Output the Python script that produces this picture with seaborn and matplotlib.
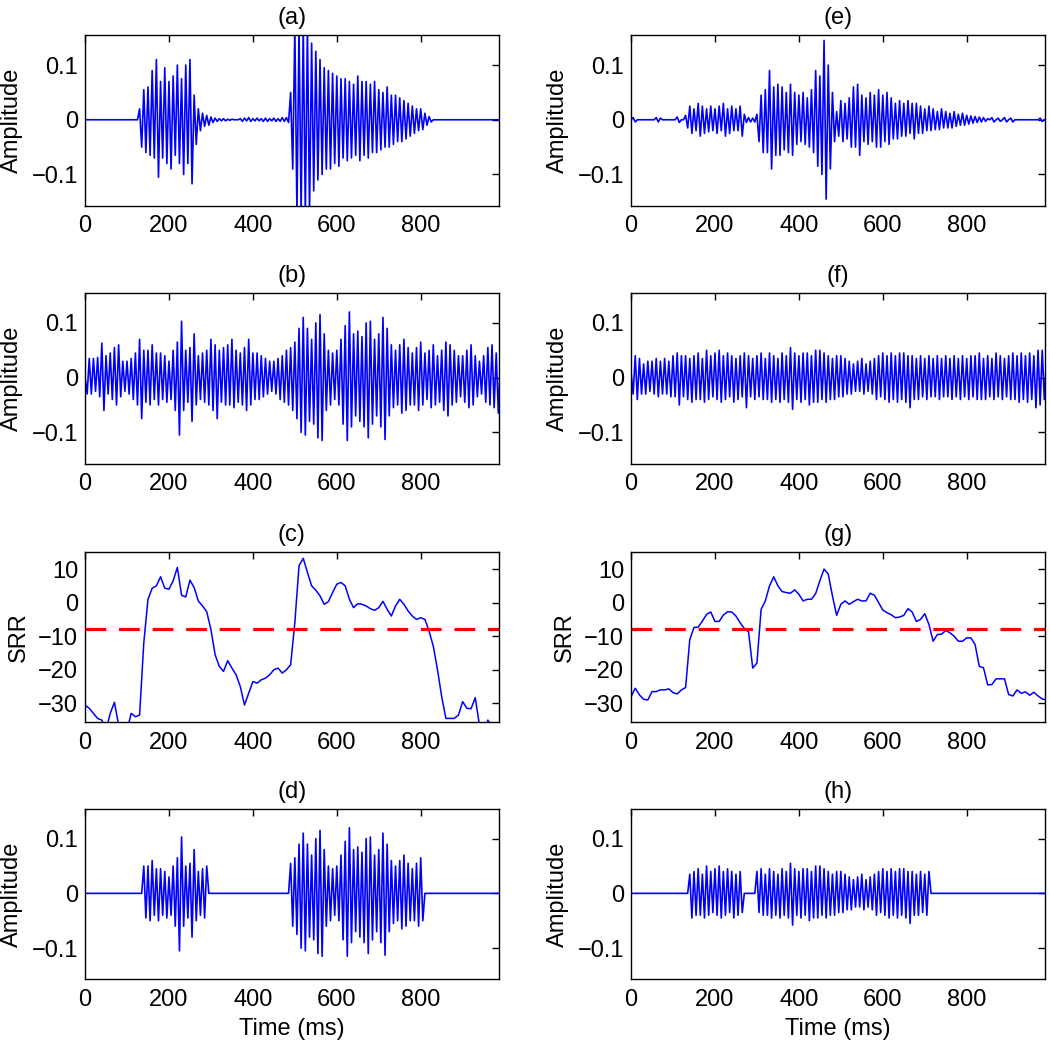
import numpy as np
import matplotlib
matplotlib.use("Agg")
import matplotlib.pyplot as plt
import seaborn as sns

# sample grid of the waveforms (ms) and of the SRR track (ms)
time_ms = np.arange(0, 1000, 5)
srr_time = np.arange(0, 1000, 10)

# (a) clean utterance 1
clean_a = [
    0, 0, 0, 0, 0, 0, 0, 0, 0, 0,
    0, 0, 0, 0, 0, 0, 0, 0, 0, 0,
    0, 0, 0, 0, 0, 0, 0.02, -0.05, 0.055, -0.06,
    0.06, -0.065, 0.09, -0.07, 0.11, -0.105, 0.07, -0.07, 0.095, -0.08,
    0.07, -0.09, 0.08, -0.065, 0.1, -0.08, 0.075, -0.1, 0.1, -0.08,
    0.11, -0.117, 0.045, -0.045, 0.02, -0.02, 0.012, -0.012, 0.008, -0.01,
    0.005, -0.005, 0.003, -0.003, 0.002, -0.002, 0.002, -0.002, 0.001, -0.001,
    0.001, 0, 0, 0, 0.002, -0.003, 0.003, -0.002, 0.004, -0.003,
    0.002, -0.002, 0.003, -0.002, 0.002, -0.003, 0.003, -0.003, 0.002, -0.002,
    0.003, -0.003, 0.002, -0.003, 0.004, -0.003, 0.004, -0.005, 0.05, -0.09,
    0.17, -0.17, 0.17, -0.17, 0.17, -0.17, 0.17, -0.17, 0.14, -0.13,
    0.125, -0.11, 0.11, -0.1, 0.095, -0.09, 0.09, -0.09, 0.085, -0.08,
    0.08, -0.085, 0.075, -0.07, 0.075, -0.075, 0.07, -0.07, 0.065, -0.065,
    0.08, -0.075, 0.07, -0.065, 0.07, -0.07, 0.065, -0.06, 0.07, -0.06,
    0.055, -0.055, 0.05, -0.05, 0.06, -0.05, 0.045, -0.045, 0.045, -0.04,
    0.04, -0.04, 0.035, -0.035, 0.03, -0.03, 0.025, -0.025, 0.02, -0.02,
    0.02, -0.018, 0.012, -0.01, 0.006, -0.004, 0, 0, 0, 0,
    0, 0, 0, 0, 0, 0, 0, 0, 0, 0,
    0, 0, 0, 0, 0, 0, 0, 0, 0, 0,
    0, 0, 0, 0, 0, 0, 0, 0, 0, 0,
]

# (b) noisy utterance 1
noisy_b = [
    0.0, -0.03, 0.035, -0.03, 0.035, -0.025, 0.037, -0.035, 0.063, -0.06,
    0.04, -0.03, 0.045, -0.04, 0.055, -0.05, 0.06, -0.035, 0.03, -0.025,
    0.03, -0.03, 0.035, -0.04, 0.045, -0.05, 0.07, -0.075, 0.05, -0.045,
    0.05, -0.05, 0.06, -0.04, 0.045, -0.05, 0.045, -0.04, 0.04, -0.045,
    0.03, -0.04, 0.05, -0.06, 0.065, -0.105, 0.103, -0.06, 0.05, -0.045,
    0.055, -0.08, 0.08, -0.05, 0.04, -0.04, 0.045, -0.045, 0.05, -0.05,
    0.07, -0.06, 0.06, -0.075, 0.05, -0.045, 0.055, -0.05, 0.06, -0.05,
    0.07, -0.055, 0.05, -0.045, 0.045, -0.05, 0.055, -0.06, 0.07, -0.05,
    0.045, -0.04, 0.045, -0.04, 0.04, -0.035, 0.035, -0.03, 0.03, -0.025,
    0.03, -0.03, 0.035, -0.04, 0.04, -0.045, 0.05, -0.05, 0.055, -0.06,
    0.065, -0.075, 0.09, -0.1, 0.11, -0.105, 0.09, -0.08, 0.07, -0.085,
    0.1, -0.11, 0.115, -0.115, 0.08, -0.06, 0.05, -0.05, 0.045, -0.04,
    0.05, -0.05, 0.07, -0.085, 0.095, -0.115, 0.12, -0.09, 0.08, -0.07,
    0.085, -0.08, 0.075, -0.09, 0.1, -0.11, 0.103, -0.085, 0.07, -0.07,
    0.08, -0.09, 0.11, -0.113, 0.09, -0.07, 0.06, -0.055, 0.05, -0.05,
    0.06, -0.065, 0.07, -0.06, 0.055, -0.05, 0.045, -0.05, 0.055, -0.06,
    0.065, -0.05, 0.045, -0.04, 0.05, -0.055, 0.06, -0.05, 0.04, -0.045,
    0.05, -0.06, 0.065, -0.07, 0.06, -0.05, 0.05, -0.045, 0.04, -0.035,
    0.04, -0.045, 0.05, -0.055, 0.06, -0.05, 0.04, -0.035, 0.03, -0.03,
    0.04, -0.045, 0.055, -0.05, 0.06, -0.055, 0.045, -0.065, 0.035, -0.03,
]

# (e) clean utterance 2
clean_e = [
    0, 0.004, -0.004, 0, 0, 0, 0, 0, 0, 0,
    0, 0, 0.004, -0.004, 0.003, 0, 0, 0, 0, 0,
    0, 0, 0.005, -0.005, 0, 0, 0.008, -0.015, 0.025, -0.025,
    0.02, -0.02, 0.03, -0.03, 0.025, -0.025, 0.02, -0.022, 0.025, -0.02,
    0.02, -0.025, 0.025, -0.02, 0.03, -0.03, 0.02, -0.025, 0.025, -0.02,
    0.02, -0.02, 0.025, -0.03, 0.01, -0.005, 0.004, -0.004, 0.003, -0.004,
    0.01, -0.04, 0.045, -0.06, 0.055, -0.06, 0.09, -0.09, 0.06, -0.065,
    0.065, -0.065, 0.06, -0.055, 0.05, -0.06, 0.065, -0.065, 0.05, -0.045,
    0.045, -0.04, 0.05, -0.045, 0.04, -0.05, 0.055, -0.06, 0.09, -0.085,
    0.08, -0.1, 0.145, -0.145, 0.1, -0.09, 0.05, -0.04, 0.015, -0.03,
    0.035, -0.04, 0.03, -0.035, 0.04, -0.05, 0.06, -0.05, 0.065, -0.065,
    0.045, -0.04, 0.04, -0.045, 0.05, -0.04, 0.045, -0.05, 0.055, -0.05,
    0.045, -0.04, 0.05, -0.045, 0.04, -0.035, 0.03, -0.035, 0.035, -0.03,
    0.03, -0.03, 0.035, -0.025, 0.03, -0.035, 0.03, -0.025, 0.025, -0.025,
    0.02, -0.02, 0.025, -0.02, 0.02, -0.018, 0.015, -0.018, 0.02, -0.015,
    0.015, -0.015, 0.012, -0.015, 0.015, -0.012, 0.01, -0.01, 0.012, -0.01,
    0.008, -0.008, 0.007, -0.006, 0.006, -0.005, 0.005, -0.004, 0.004, -0.003,
    0.002, 0, 0.004, -0.004, 0, 0.003, -0.003, 0, 0.004, -0.004,
    0, 0.003, -0.004, 0, 0, 0, 0, 0, 0, 0,
    0, 0, 0, 0, 0, 0.003, -0.003, 0, 0, 0,
]

# (f) noisy utterance 2
noisy_f = [
    0.01, -0.03, 0.04, -0.04, 0.035, -0.03, 0.025, -0.03, 0.03, -0.025,
    0.03, -0.03, 0.035, -0.035, 0.03, -0.03, 0.035, -0.03, 0.03, -0.035,
    0.04, -0.035, 0.045, -0.05, 0.04, -0.035, 0.04, -0.04, 0.035, -0.045,
    0.04, -0.04, 0.045, -0.04, 0.035, -0.045, 0.05, -0.04, 0.04, -0.035,
    0.045, -0.04, 0.05, -0.045, 0.04, -0.04, 0.045, -0.035, 0.04, -0.045,
    0.035, -0.04, 0.04, -0.035, 0.045, -0.055, 0.04, -0.035, 0.035, -0.04,
    0.04, -0.035, 0.045, -0.04, 0.035, -0.04, 0.045, -0.045, 0.04, -0.04,
    0.035, -0.045, 0.045, -0.04, 0.04, -0.045, 0.055, -0.058, 0.045, -0.04,
    0.04, -0.045, 0.045, -0.04, 0.045, -0.05, 0.04, -0.045, 0.05, -0.045,
    0.05, -0.04, 0.045, -0.045, 0.04, -0.04, 0.035, -0.04, 0.04, -0.035,
    0.04, -0.035, 0.035, -0.03, 0.03, -0.03, 0.025, -0.025, 0.03, -0.025,
    0.035, -0.03, 0.025, -0.025, 0.03, -0.03, 0.035, -0.04, 0.04, -0.035,
    0.045, -0.04, 0.04, -0.045, 0.045, -0.04, 0.04, -0.045, 0.045, -0.04,
    0.045, -0.045, 0.04, -0.055, 0.04, -0.04, 0.035, -0.04, 0.04, -0.035,
    0.035, -0.04, 0.04, -0.035, 0.035, -0.035, 0.04, -0.04, 0.035, -0.035,
    0.04, -0.035, 0.035, -0.04, 0.04, -0.035, 0.035, -0.04, 0.04, -0.035,
    0.035, -0.04, 0.04, -0.035, 0.04, -0.04, 0.045, -0.04, 0.035, -0.04,
    0.04, -0.035, 0.035, -0.04, 0.045, -0.035, 0.04, -0.04, 0.035, -0.035,
    0.04, -0.04, 0.045, -0.04, 0.04, -0.045, 0.045, -0.04, 0.04, -0.045,
    0.045, -0.04, 0.04, -0.055, 0.05, -0.05, 0.05, -0.04, 0.03, -0.02,
]

# (c), (g) segmental SRR tracks (dB), one value every 10 ms
srr_c = [
    -30.5, -31.5, -33, -34.5, -35, -38, -33, -29.7, -36.5, -40,
    -38, -33, -34, -33.5, -12, 1, 4.3, 5, 7.7, 4.3,
    4, 6.5, 10.5, 2.2, 1.7, 6.7, 4.5, 0.5, -1, -2.7,
    -8, -15.5, -19, -20.5, -17.3, -19.5, -21.5, -25, -30.5, -27,
    -23.5, -24, -23, -22.5, -21.5, -20, -19.5, -21, -20, -18.5,
    -6, 11, 13.2, 9, 5, 3.7, 2, -0.5, 0.3, 3,
    5.5, 6, 5, 1, -1.5, -0.3, -0.5, -1, -1.8, -2.3,
    -1.5, 0.4, -2, -4, -1, 1, -0.5, -2.5, -4, -5,
    -4.5, -5, -8.5, -13, -20, -28, -34.5, -34.5, -34.5, -33.5,
    -29.5, -31.5, -31.6, -28.3, -36.5, -40, -35, -37, -38, -35.5,
]
srr_g = [
    -28, -25.5, -27.5, -28.8, -29, -26.5, -26.5, -26, -26, -25.7,
    -26.8, -27.2, -26, -25.3, -11, -7.4, -7.3, -5.5, -3.5, -2.8,
    -5.6, -5.6, -3.7, -2.7, -2.8, -4, -6, -7.7, -8.7, -19.5,
    -18, -2, 0.5, 5, 7.7, 5, 3.3, 3, 2.8, 3.8,
    2.5, 0.5, 1, 1, 2.7, 6.5, 10, 8.5, 2, -3.8,
    -0.5, 0.5, -0.5, 0.3, 1, 0.5, 0.5, 2.8, 2.2, 0,
    -2.2, -3, -3.6, -4.5, -4.3, -3.8, -1.8, -2.8, -5.6, -5,
    -3.3, -6.5, -11.5, -9.5, -9.4, -8.3, -9, -10, -11.5, -11.5,
    -10.5, -10.5, -12.5, -19, -19.4, -24.5, -24.4, -22.7, -22.7, -22.7,
    -27.4, -27.8, -26, -27, -26.6, -27.6, -26.7, -27.8, -28.7, -29,
]
srr_threshold = -8

# speech segments kept after thresholding (ms)
kept_d = [(140, 290), (490, 805)]
kept_h = [(140, 267), (298, 714)]


def keep(values, segments):
    values = np.asarray(values, dtype=float)
    mask = np.zeros(len(time_ms), dtype=bool)
    for start, end in segments:
        mask |= (time_ms >= start) & (time_ms <= end)
    return np.where(mask, values, 0.0)


enhanced_d = keep(noisy_b, kept_d)
enhanced_h = keep(noisy_f, kept_h)

x_ticks = [0, 200, 400, 600, 800]
amp_ticks = [-0.1, 0, 0.1]
amp_labels = ["\u22120.1", "0", "0.1"]
srr_ticks = [-30, -20, -10, 0, 10]
srr_labels = ["\u221230", "\u221220", "\u221210", "0", "10"]

sns.set_style("white")
plt.rcParams["font.family"] = ["Liberation Sans", "DejaVu Sans"]
plt.rcParams["text.color"] = "black"
plt.rcParams["axes.labelcolor"] = "black"
FS = 17

fig = plt.figure(figsize=(10.5, 10.44), dpi=100)
col_left = [0.081, 0.601]
row_bottom = [0.803, 0.556, 0.308, 0.062]
w, h = 0.394, 0.163

panels = [
    ("(a)", "wave", clean_a), ("(b)", "wave", noisy_b),
    ("(c)", "srr", srr_c), ("(d)", "wave", enhanced_d),
    ("(e)", "wave", clean_e), ("(f)", "wave", noisy_f),
    ("(g)", "srr", srr_g), ("(h)", "wave", enhanced_h),
]

for k, (title, kind, values) in enumerate(panels):
    col, row = divmod(k, 4)
    ax = fig.add_axes([col_left[col], row_bottom[row], w, h])
    if kind == "wave":
        sns.lineplot(x=time_ms, y=np.asarray(values, dtype=float), ax=ax,
                     color="#0000ff", lw=1.2, estimator=None)
        ax.set_ylim(-0.157, 0.154)
        ax.set_yticks(amp_ticks)
        ax.set_yticklabels(amp_labels)
        ax.set_ylabel("Amplitude", fontsize=FS, labelpad=6)
    else:
        sns.lineplot(x=srr_time, y=values, ax=ax, color="#0000ff",
                     lw=1.1, estimator=None)
        ax.axhline(srr_threshold, color="#ff0000", lw=2.3, dashes=(6.5, 4))
        ax.set_ylim(-35.7, 15)
        ax.set_yticks(srr_ticks)
        ax.set_yticklabels(srr_labels)
        ax.set_ylabel("SRR", fontsize=FS, labelpad=6)
    ax.set_xlim(0, 986)
    ax.set_xticks(x_ticks)
    ax.set_title(title, fontsize=FS, pad=8)
    ax.tick_params(direction="in", top=True, right=True, length=5, width=1,
                   labelsize=FS, colors="black")
    ax.tick_params(axis="x", pad=7)
    ax.tick_params(axis="y", pad=5)
    for s in ax.spines.values():
        s.set_color("black")
        s.set_linewidth(1.0)
    if row == 3:
        ax.set_xlabel("Time (ms)", fontsize=FS, labelpad=5)
    else:
        ax.set_xlabel("")

fig.savefig("out.png", dpi=100)
